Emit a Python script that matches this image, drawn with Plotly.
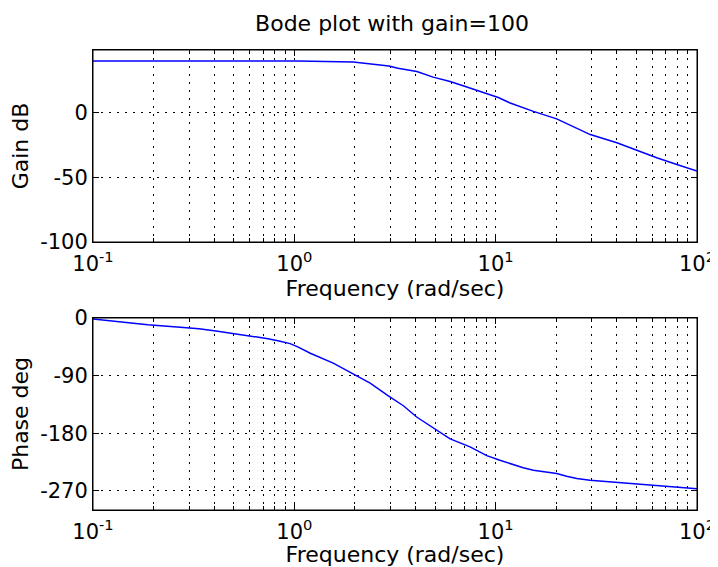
import plotly.graph_objects as go
from plotly.subplots import make_subplots

# Gain curve
gain_freq = [0.1, 1.04, 1.96, 2.52, 2.95, 3.27, 4.06, 4.89, 5.94, 6.89, 8.66, 10.3,
             11.8, 15.4, 20.1, 29.5, 40.0, 50.3, 63.1, 79.4, 100]
gain_db = [40, 39.9, 39.2, 37.7, 36.2, 34.4, 31.8, 27.5, 24.1, 20.8, 15.6, 11.8,
           7.5, 1.0, -4.8, -16.9, -23.3, -29.2, -34.8, -40.0, -45.2]

# Phase curve
phase_freq = [0.1, 0.136, 0.187, 0.252, 0.336, 0.408, 0.480, 0.556, 0.645, 0.740, 0.839,
              0.953, 1.04, 1.20, 1.56, 2.00, 2.38, 2.93, 3.48, 4.05, 4.90, 5.94, 7.46,
              9.03, 10.5, 11.8, 13.7, 15.4, 17.9, 20.1, 22.5, 25.3, 29.4, 38.4, 52.1,
              70.8, 92.5, 100]
phase_deg = [-1.5, -6.2, -10.4, -13.6, -16.7, -20.2, -23.4, -26.9, -29.6, -32.3, -35.8,
             -40.0, -45.2, -55.0, -70.6, -88.8, -101.7, -121.5, -137.1, -154.7, -171.8,
             -188.9, -201.4, -215.0, -222.3, -227.9, -234.1, -237.9, -240.9, -243.0,
             -247.2, -250.8, -253.4, -256.5, -259.0, -262.8, -266.4, -266.8]

x_tickvals = [0.1, 1, 10, 100]
x_ticktext = ["10<sup>-1</sup>", "10<sup>0</sup>", "10<sup>1</sup>", "10<sup>2</sup>"]
gain_ticks = [-100, -50, 0]
gain_labels = ["-100", "-50", "0"]
phase_ticks = [-270, -180, -90, 0]
phase_labels = ["-270", "-180", "-90", "0"]

title_text = "Bode plot with gain=100"
xlabel = "Frequency (rad/sec)"

# page body has an 8px margin; compensate
W, H = 710, 559
ml, mr, mt, mb = 85, 21, 42, 57
ph = H - mt - mb
top_dom = [(H - 242 + 8 - mb) / ph, 1]
bot_dom = [0, (H - 318 + 8 - mb) / ph]

fig = make_subplots(rows=2, cols=1)
fig.add_trace(go.Scatter(x=gain_freq, y=gain_db, mode="lines",
                         line=dict(color="#0000ff", width=1.5), showlegend=False), row=1, col=1)
fig.add_trace(go.Scatter(x=phase_freq, y=phase_deg, mode="lines",
                         line=dict(color="#0000ff", width=1.5), showlegend=False), row=2, col=1)

minor_vals = [m * 10 ** e for e in (-1, 0, 1) for m in range(2, 10)]
fam = "DejaVu Sans, Liberation Sans, Arial, sans-serif"
font = dict(family=fam, size=21, color="black")
tfont = dict(family=fam, size=22, color="black")
dash = "2px,6px"

xcommon = dict(type="log", range=[-1, 2], tickmode="array", tickvals=x_tickvals,
               ticktext=x_ticktext, ticks="inside", ticklen=6, tickcolor="black",
               showline=True, linecolor="black", linewidth=1, mirror="allticks",
               showgrid=True, gridcolor="black", griddash=dash, gridwidth=1,
               zeroline=False, tickfont=font, ticklabelstandoff=3, automargin=False,
               minor=dict(tickmode="array", tickvals=minor_vals, ticks="inside",
                          ticklen=4, tickcolor="black", showgrid=True,
                          gridcolor="black", griddash=dash, gridwidth=1))
fig.update_xaxes(**xcommon, title=dict(text=xlabel, font=tfont, standoff=0), row=1, col=1)
fig.update_xaxes(**xcommon, title=dict(text=xlabel, font=tfont, standoff=2), row=2, col=1)

ycommon = dict(ticks="inside", ticklen=6, tickcolor="black", showline=True,
               linecolor="black", linewidth=1, mirror="allticks", showgrid=True,
               gridcolor="black", griddash=dash, gridwidth=1, zeroline=False,
               tickfont=font, tickmode="array", automargin=False)
fig.update_yaxes(**ycommon, range=[-100, 48.5], tickvals=gain_ticks, ticktext=gain_labels,
                 title=dict(text="Gain dB", font=tfont, standoff=6), row=1, col=1)
fig.update_yaxes(**ycommon, range=[-300, 0], tickvals=phase_ticks, ticktext=phase_labels,
                 title=dict(text="Phase deg", font=tfont, standoff=6), row=2, col=1)

for xr, yr in (("x domain", "y domain"), ("x2 domain", "y2 domain")):
    fig.add_shape(type="rect", xref=xr, yref=yr, x0=0, x1=1, y0=0, y1=1,
                  line=dict(color="black", width=1), layer="above")

fig.update_layout(
    width=W, height=H,
    margin=dict(l=ml, r=mr, t=mt, b=mb, autoexpand=False),
    paper_bgcolor="white", plot_bgcolor="white",
    font=font,
    title=dict(text=title_text, x=384 / W, xanchor="center", y=1 - 15 / H,
               yanchor="middle", font=dict(family=fam, size=22, color="black")),
    yaxis=dict(domain=top_dom), yaxis2=dict(domain=bot_dom),
)

fig.write_html("out.html")
